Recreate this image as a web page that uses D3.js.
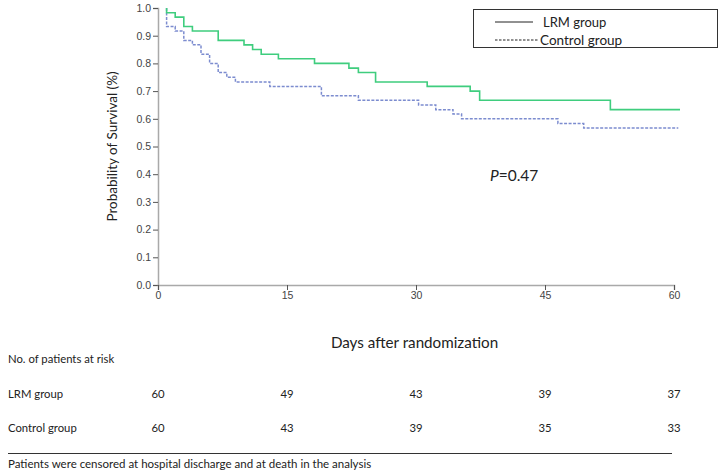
<!DOCTYPE html>
<html>
<head>
<meta charset="utf-8">
<script src="https://cdn.jsdelivr.net/npm/d3@7"></script>
<style>
  body { margin: 0; background: #fff; }
  svg { display: block; }
</style>
</head>
<body>
<div id="plot-container"></div>
<script>
// Kaplan-Meier steps
const lrmTimes = [1, 1, 2, 3, 4, 7, 10, 11, 12, 14, 18.2, 22.2, 23.3, 25.3, 31.3, 36.3, 37.4, 52.6, 60.7];
const lrmSurv  = [1.0, 0.983, 0.967, 0.933, 0.917, 0.883, 0.867, 0.85, 0.833, 0.817, 0.80, 0.783, 0.767, 0.733, 0.717, 0.70, 0.667, 0.633, 0.633];

const ctrlTimes = [1, 1, 2, 3, 4, 5, 6, 7, 8, 9, 13, 19, 23.3, 30.3, 32.3, 34.3, 35.3, 46.5, 49.5, 60.5];
const ctrlSurv  = [1.0, 0.933, 0.917, 0.883, 0.867, 0.833, 0.80, 0.767, 0.75, 0.733, 0.717, 0.683, 0.667, 0.65, 0.633, 0.617, 0.60, 0.583, 0.567, 0.567];

const xTicks = [0, 15, 30, 45, 60];
const yTicks = [0, 0.1, 0.2, 0.3, 0.4, 0.5, 0.6, 0.7, 0.8, 0.9, 1.0];

const riskGroups = ["LRM group", "Control group"];
const riskLrm  = [60, 49, 43, 39, 37];
const riskCtrl = [60, 43, 39, 35, 33];

const pValue = "0.47";
const footnote = "Patients were censored at hospital discharge and at death in the analysis";

const width = 721, height = 474;
const margin = { top: 8, left: 158, right: 47, bottom: 189 };

const svg = d3.select("#plot-container").append("svg")
    .attr("width", width)
    .attr("height", height);

const xScale = d3.scaleLinear().domain([0, 60]).range([margin.left, width - margin.right]);
const yScale = d3.scaleLinear().domain([0, 1]).range([height - margin.bottom, margin.top]);

const tickFont = "Arial, 'Liberation Sans', sans-serif";
const textFont = "Lato, 'Open Sans', sans-serif";
const axisColor = "#a9a9a9";

// y axis
const yAxis = svg.append("g")
    .attr("transform", `translate(${margin.left},0)`)
    .call(d3.axisLeft(yScale).tickValues(yTicks).tickFormat(d3.format(".1f")).tickSize(5).tickPadding(2));
// x axis
const xAxis = svg.append("g")
    .attr("transform", `translate(0,${yScale(0)})`)
    .call(d3.axisBottom(xScale).tickValues(xTicks).tickSize(5).tickPadding(2));

[yAxis, xAxis].forEach(ax => {
  ax.select(".domain").attr("stroke", axisColor).attr("stroke-width", 1.5);
  ax.selectAll(".tick line").attr("stroke", "#555");
  ax.selectAll("text").attr("fill", "#444").attr("font-family", tickFont).attr("font-size", 10.5);
});

// curves
const line = d3.line()
    .x(d => xScale(d[0]))
    .y(d => yScale(d[1]))
    .curve(d3.curveStepAfter);

svg.append("path")
    .datum(d3.zip(ctrlTimes, ctrlSurv))
    .attr("fill", "none")
    .attr("stroke", "#7c8ccf")
    .attr("stroke-width", 1.5)
    .attr("stroke-dasharray", "3,1.5")
    .attr("d", line);

svg.append("path")
    .datum(d3.zip(lrmTimes, lrmSurv))
    .attr("fill", "none")
    .attr("stroke", "#3fcd7e")
    .attr("stroke-width", 1.6)
    .attr("d", line);

// y label
svg.append("text")
    .attr("transform", `translate(112,${(yScale(0) + yScale(1)) / 2}) rotate(-90)`)
    .attr("text-anchor", "middle")
    .attr("dominant-baseline", "central")
    .attr("font-family", textFont)
    .attr("font-size", 13.5)
    .attr("fill", "#222")
    .text("Probability of Survival (%)");

// legend
const legend = svg.append("g");
legend.append("rect")
    .attr("x", 473.5).attr("y", 9.5)
    .attr("width", 244).attr("height", 38)
    .attr("fill", "#fff").attr("stroke", "#333").attr("stroke-width", 1);
legend.append("line")
    .attr("x1", 495).attr("x2", 533).attr("y1", 22).attr("y2", 22)
    .attr("stroke", "#222").attr("stroke-width", 1);
legend.append("line")
    .attr("x1", 495).attr("x2", 539).attr("y1", 40).attr("y2", 40)
    .attr("stroke", "#222").attr("stroke-width", 1).attr("stroke-dasharray", "2.5,1.5");
legend.append("text")
    .attr("x", 543).attr("y", 22).attr("dominant-baseline", "central")
    .attr("font-family", textFont).attr("font-size", 13).attr("fill", "#222")
    .text("LRM group");
legend.append("text")
    .attr("x", 540).attr("y", 40).attr("dominant-baseline", "central")
    .attr("font-family", textFont).attr("font-size", 13.5).attr("fill", "#222")
    .text("Control group");

// p value
const pText = svg.append("text")
    .attr("x", 490).attr("y", 175).attr("dominant-baseline", "central")
    .attr("font-family", textFont).attr("font-size", 15.5).attr("fill", "#222");
pText.append("tspan").attr("font-style", "italic").text("P");
pText.append("tspan").text("=" + pValue);

// x label
svg.append("text")
    .attr("x", 414.5).attr("y", 342).attr("text-anchor", "middle").attr("dominant-baseline", "central")
    .attr("font-family", textFont).attr("font-size", 15.2).attr("fill", "#222")
    .text("Days after randomization");

// numbers at risk table
const tableSize = 11.3;
svg.append("text")
    .attr("x", 8).attr("y", 358).attr("dominant-baseline", "central")
    .attr("font-family", textFont).attr("font-size", tableSize).attr("fill", "#222")
    .text("No. of patients at risk");

const rowY = [393, 427];
[riskLrm, riskCtrl].forEach((row, i) => {
  svg.append("text")
      .attr("x", 8).attr("y", rowY[i]).attr("dominant-baseline", "central")
      .attr("font-family", textFont).attr("font-size", tableSize).attr("fill", "#222")
      .text(riskGroups[i]);
  svg.append("g").selectAll("text")
      .data(row)
      .enter()
      .append("text")
      .attr("x", (d, j) => xScale(xTicks[j]))
      .attr("y", rowY[i])
      .attr("text-anchor", "middle")
      .attr("dominant-baseline", "central")
      .attr("font-family", textFont).attr("font-size", tableSize).attr("fill", "#222")
      .text(d => d);
});

svg.append("line")
    .attr("x1", 8).attr("x2", 672).attr("y1", 453.5).attr("y2", 453.5)
    .attr("stroke", "#333").attr("stroke-width", 1);

svg.append("text")
    .attr("x", 8).attr("y", 463).attr("dominant-baseline", "central")
    .attr("font-family", textFont).attr("font-size", 11.5).attr("fill", "#222")
    .text(footnote);
</script>
</body>
</html>
